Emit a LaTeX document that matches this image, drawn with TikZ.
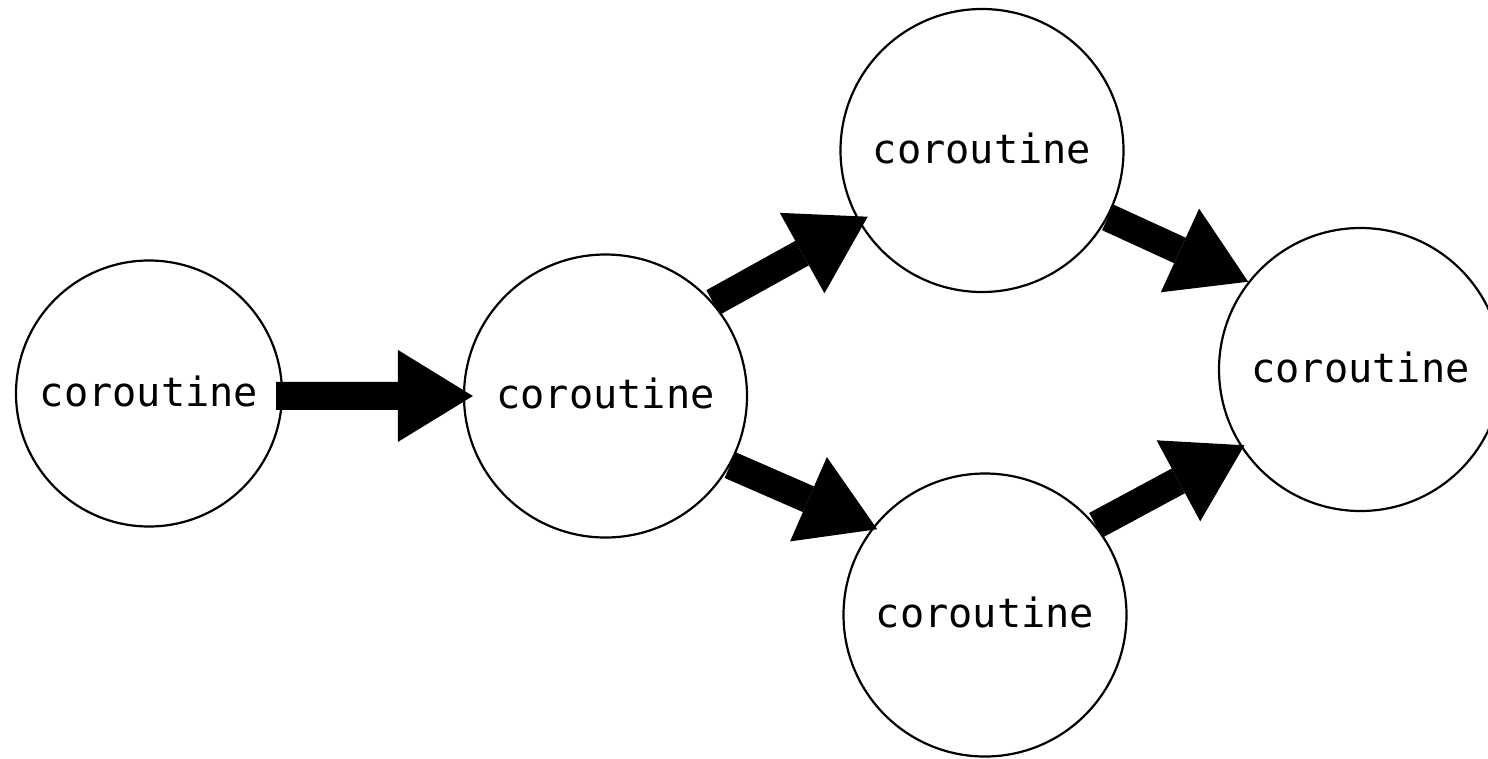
\documentclass[tikz,border=0pt]{standalone}
\usepackage{fontspec}
\setmonofont{DejaVu Sans Mono}
\usetikzlibrary{arrows.meta}

\tikzset{
  coro/.style={circle, draw=black, fill=white, line width=2.2pt, inner sep=0pt,
               minimum size=283pt, text depth=5pt,
               font=\ttfamily\fontsize{40.3}{40.3}\selectfont},
  flow/.style={line width=28pt, draw=black,
               -{Triangle[length=75pt,width=92pt,line width=0pt]}}
}

\begin{document}
\begin{tikzpicture}[x=1pt,y=-1pt]
  \useasboundingbox (0,0) rectangle (1488,758);
  \fill[white] (0,0) rectangle (1488,758);

  % the five coroutines
  \node[coro, minimum size=266pt] (src)   at (149,393.5)  {coroutine};
  \node[coro] (mid)   at (605.5,396)  {coroutine};
  \node[coro] (upper) at (982,150.5)  {coroutine};
  \node[coro] (lower) at (985,615)    {coroutine};
  \node[coro] (sink)  at (1360.5,369.5) {coroutine};

  % block arrows between them
  \draw[flow, shorten <=-7pt, shorten >=-10pt] (src.-1) -- (mid.west);
  \draw[flow, shorten >=-10.5pt] (mid.41) -- (upper.210);
  \draw[flow, shorten >=-5pt] (mid.-29) -- (lower.142);
  \draw[flow] (upper.-28) -- (sink.142);
  \draw[flow, shorten >=-4pt] (lower.39) -- (sink.213);
\end{tikzpicture}
\end{document}
